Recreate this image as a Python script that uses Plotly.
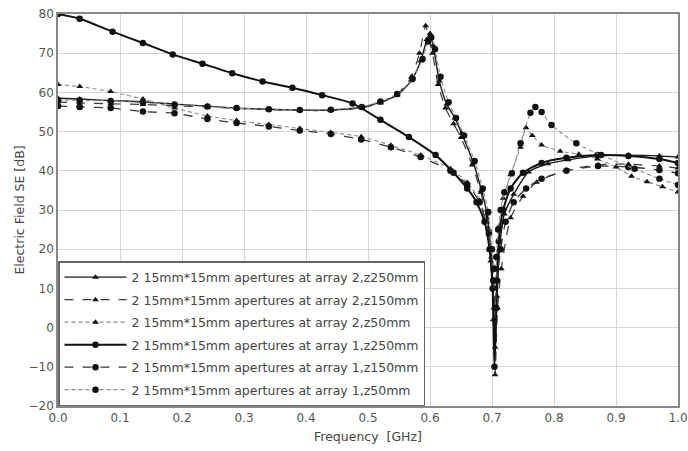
import plotly.graph_objects as go

# Shielding effectiveness of a box with two 15mm*15mm apertures,
# evaluated at three observation distances z for two aperture arrays.
series_names = [
    "2 15mm*15mm apertures at array 2,z250mm",
    "2 15mm*15mm apertures at array 2,z150mm",
    "2 15mm*15mm apertures at array 2,z50mm",
    "2 15mm*15mm apertures at array 1,z250mm",
    "2 15mm*15mm apertures at array 1,z150mm",
    "2 15mm*15mm apertures at array 1,z50mm",
]

freq_a2_z250 = [0.0, 0.035, 0.085, 0.137, 0.188, 0.241, 0.288, 0.34, 0.39, 0.44, 0.49, 0.52,
                0.547, 0.57, 0.585, 0.595, 0.6, 0.605, 0.615, 0.627, 0.64, 0.651, 0.67, 0.683,
                0.692, 0.699, 0.703, 0.705, 0.708, 0.712, 0.72, 0.735, 0.759, 0.79, 0.823,
                0.871, 0.92, 0.97, 1.0]
se_a2_z250 = [58.5, 58.3, 57.9, 57.6, 57.0, 56.5, 56.0, 55.7, 55.5, 55.5, 56.2, 57.5,
              59.3, 63.0, 68.0, 73.5, 75.0, 72.0, 63.0, 57.0, 53.5, 49.6, 42.0, 35.0,
              29.0, 18.0, 5.0, -5.0, 8.0, 20.0, 29.0, 34.0, 39.7, 41.8, 42.8,
              43.8, 44.0, 43.8, 43.5]

freq_a2_z150 = [0.0, 0.035, 0.085, 0.137, 0.188, 0.241, 0.288, 0.34, 0.39, 0.44, 0.49, 0.52,
                0.547, 0.57, 0.583, 0.593, 0.598, 0.604, 0.613, 0.625, 0.638, 0.65, 0.668,
                0.682, 0.691, 0.698, 0.702, 0.705, 0.709, 0.715, 0.73, 0.75, 0.772, 0.82,
                0.871, 0.92, 0.97, 1.0]
se_a2_z150 = [57.6, 57.3, 57.1, 56.9, 56.6, 56.3, 55.9, 55.6, 55.4, 55.4, 56.0, 57.3,
              59.5, 64.0, 70.0, 77.0, 74.0, 70.0, 62.0, 56.0, 52.0, 48.5, 41.5,
              34.5, 28.0, 17.0, 2.0, -12.0, 5.0, 15.0, 28.0, 33.5, 37.1, 40.2,
              41.5, 41.7, 41.2, 40.7]

freq_a2_z50 = [0.0, 0.035, 0.085, 0.137, 0.188, 0.241, 0.288, 0.34, 0.39, 0.44, 0.489, 0.537,
               0.585, 0.633, 0.66, 0.68, 0.695, 0.702, 0.705, 0.708, 0.712, 0.718, 0.73,
               0.746, 0.755, 0.765, 0.78, 0.81, 0.84, 0.87, 0.9, 0.925, 0.95, 0.975, 1.0]
se_a2_z50 = [62.0, 61.5, 60.2, 58.3, 56.0, 54.0, 52.8, 51.8, 50.8, 49.8, 48.7, 46.5,
             44.0, 40.5, 37.0, 32.5, 25.0, 15.0, 10.0, 18.0, 26.0, 33.0, 39.0,
             46.0, 51.0, 49.0, 46.6, 45.0, 44.2, 43.0, 41.0, 38.6, 37.2, 35.9, 34.6]

freq_a1_z250 = [0.0, 0.035, 0.088, 0.137, 0.185, 0.233, 0.281, 0.33, 0.378, 0.426, 0.475,
                0.52, 0.566, 0.609, 0.638, 0.66, 0.675, 0.688, 0.696, 0.701, 0.704, 0.707,
                0.711, 0.718, 0.73, 0.75, 0.78, 0.82, 0.87, 0.92, 0.97, 1.0]
se_a1_z250 = [80.0, 78.8, 75.5, 72.6, 69.7, 67.3, 64.9, 62.8, 61.2, 59.3, 57.2,
              53.0, 48.6, 44.0, 39.5, 35.5, 32.0, 27.0, 20.0, 10.0, -10.0, 5.0,
              22.0, 30.0, 35.5, 39.5, 42.0, 43.3, 44.0, 43.8, 43.0, 42.0]

freq_a1_z150 = [0.0, 0.035, 0.085, 0.137, 0.188, 0.241, 0.288, 0.34, 0.39, 0.44, 0.489,
                0.537, 0.585, 0.633, 0.66, 0.68, 0.695, 0.702, 0.705, 0.708, 0.714, 0.722,
                0.735, 0.755, 0.78, 0.82, 0.871, 0.92, 0.97, 1.0]
se_a1_z150 = [56.5, 56.3, 56.0, 55.1, 54.7, 53.2, 52.2, 51.3, 50.3, 49.4, 48.0,
              46.0, 43.5, 40.0, 36.5, 32.0, 24.0, 12.0, 5.0, 12.0, 20.0, 27.0,
              32.0, 35.5, 38.0, 40.0, 41.2, 41.0, 40.2, 39.4]

freq_a1_z50 = [0.0, 0.035, 0.085, 0.137, 0.188, 0.241, 0.288, 0.34, 0.39, 0.44, 0.49, 0.52,
               0.547, 0.572, 0.588, 0.597, 0.602, 0.608, 0.617, 0.63, 0.642, 0.655, 0.672,
               0.685, 0.694, 0.7, 0.704, 0.707, 0.71, 0.714, 0.72, 0.732, 0.746, 0.762,
               0.77, 0.78, 0.796, 0.836, 0.876, 0.93, 0.97, 1.0]
se_a1_z50 = [58.0, 58.0, 57.8, 57.4, 56.9, 56.4, 56.0, 55.7, 55.5, 55.6, 56.3, 57.7,
             59.6, 63.5, 68.5, 73.0, 74.0, 71.0, 64.0, 57.5, 53.5, 49.0, 42.5,
             35.5, 29.5, 20.0, 15.0, 18.0, 25.0, 30.0, 34.5, 39.4, 47.0, 54.8,
             56.3, 55.0, 51.7, 47.0, 44.0, 40.5, 38.0, 36.4]

freqs = [freq_a2_z250, freq_a2_z150, freq_a2_z50, freq_a1_z250, freq_a1_z150, freq_a1_z50]
values = [se_a2_z250, se_a2_z150, se_a2_z50, se_a1_z250, se_a1_z150, se_a1_z50]

line_colors = ["#1a1a1a", "#3a3a3a", "#8a8a8a", "#111111", "#3a3a3a", "#8a8a8a"]
line_dashes = ["solid", "dash", "4px,3px", "solid", "dash", "4px,3px"]
line_widths = [1.4, 1.2, 1.1, 2.0, 1.3, 1.1]
symbols = ["triangle-up", "triangle-up", "triangle-up", "circle", "circle", "circle"]
marker_sizes = [6, 6, 6, 6.5, 6.5, 6.5]

fig = go.Figure()
for i in range(6):
    fig.add_trace(go.Scatter(
        x=freqs[i], y=values[i], name=series_names[i],
        mode="lines+markers",
        line=dict(color=line_colors[i], dash=line_dashes[i], width=line_widths[i],
                  shape="spline", smoothing=0.6),
        marker=dict(symbol=symbols[i], size=marker_sizes[i], color="#111111",
                    line=dict(width=0)),
        legendgroup=f"g{i}",
    ))

axis_font = dict(family="DejaVu Sans", size=12, color="#555555")
title_font = dict(family="DejaVu Sans", size=12.5, color="#444444")
fig.update_layout(
    width=688, height=451,
    margin=dict(l=58, r=10, t=14, b=45),
    paper_bgcolor="white", plot_bgcolor="white",
    font=dict(family="DejaVu Sans", size=12, color="#444444"),
    showlegend=True,
    legend=dict(
        x=0, y=0, xanchor="left", yanchor="bottom",
        bgcolor="white", bordercolor="#666666", borderwidth=1.5,
        font=dict(family="DejaVu Sans", size=12.5, color="#444444"),
        traceorder="grouped", tracegroupgap=3.25,
        itemwidth=62,
    ),
    xaxis=dict(
        range=[0, 1.0], dtick=0.1, tickformat=".1f", automargin=False,
        showgrid=True, gridcolor="#d6d6d6", gridwidth=1,
        showline=True, linecolor="#888888", linewidth=1.5, mirror=True,
        ticks="", zeroline=False, tickfont=axis_font,
        title=dict(text="Frequency  [GHz]", font=title_font, standoff=8),
    ),
    yaxis=dict(
        range=[-20, 80], dtick=10, automargin=False,
        showgrid=True, gridcolor="#d6d6d6", gridwidth=1,
        showline=True, linecolor="#888888", linewidth=1.5, mirror=True,
        ticks="", zeroline=False, tickfont=axis_font,
        title=dict(text="Electric Field SE [dB]", font=title_font, standoff=1),
    ),
)

fig.write_html("out.html")
